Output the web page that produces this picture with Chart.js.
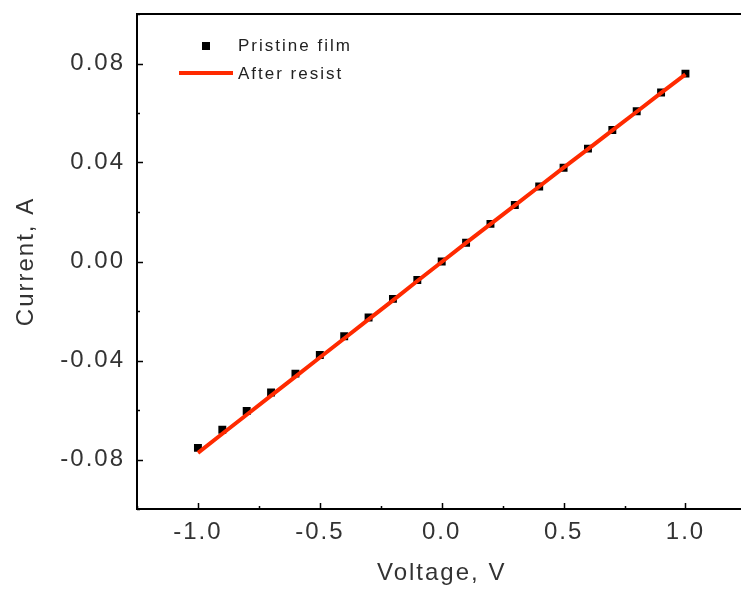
<!DOCTYPE html>
<html>
<head>
<meta charset="utf-8">
<script src="https://cdn.jsdelivr.net/npm/chart.js@4"></script>
<style>
  html, body { margin: 0; padding: 0; background: #fff; overflow: hidden; }
  #wrap { position: absolute; left: 0; top: 0; width: 752px; height: 595px; }
</style>
</head>
<body>
<div id="wrap"><canvas id="ivChart" width="752" height="595"></canvas></div>
<script>
  // voltage sweep (V)
  const voltage = [-1.0, -0.9, -0.8, -0.7, -0.6, -0.5, -0.4, -0.3, -0.2, -0.1, 0.0,
                   0.1, 0.2, 0.3, 0.4, 0.5, 0.6, 0.7, 0.8, 0.9, 1.0];
  // current (A)
  const pristineFilm = [-0.0753, -0.0680, -0.0604, -0.0529, -0.0453, -0.0378, -0.0302, -0.0226, -0.0151, -0.0075, 0.0000,
                        0.0076, 0.0152, 0.0228, 0.0303, 0.0379, 0.0456, 0.0531, 0.0607, 0.0683, 0.0759];
  const afterResist = [-0.0773, -0.0696, -0.0619, -0.0542, -0.0465, -0.0388, -0.0311, -0.0234, -0.0157, -0.0079, -0.0002,
                       0.0075, 0.0151, 0.0227, 0.0303, 0.0379, 0.0454, 0.0530, 0.0605, 0.0681, 0.0756];
  const seriesNames = ['Pristine film', 'After resist'];

  const xTicks = [-1.0, -0.5, 0.0, 0.5, 1.0];
  const xTickLabels = ['-1.0', '-0.5', '0.0', '0.5', '1.0'];
  const xMinor = [-1.25, -0.75, -0.25, 0.25, 0.75, 1.25];
  const yTicks = [0.08, 0.04, 0.00, -0.04, -0.08];
  const yTickLabels = ['0.08', '0.04', '0.00', '-0.04', '-0.08'];
  const yMinor = [0.1, 0.06, 0.02, -0.02, -0.06, -0.1];

  const RED = '#ff2a00';
  const TXT = '#333';
  const FONT = 'Liberation Sans, Arial, sans-serif';

  const toPoints = ys => voltage.map((v, i) => ({ x: v, y: ys[i] }));

  // letter spacing for the wide, old-style axis text
  const spacing = {
    id: 'spacing',
    beforeDraw(chart) { chart.ctx.letterSpacing = '2px'; }
  };

  // frame top/right, inward ticks, and the inset legend
  const frame = {
    id: 'frame',
    afterDraw(chart) {
      const { ctx, chartArea: a, scales: { x, y } } = chart;
      ctx.save();
      ctx.strokeStyle = '#000';
      ctx.lineWidth = 2;
      ctx.beginPath();
      ctx.moveTo(a.left - 1, a.top);
      ctx.lineTo(a.right, a.top);
      ctx.lineTo(a.right, a.bottom);
      ctx.stroke();

      ctx.lineWidth = 1.5;
      ctx.beginPath();
      const xt = (v, len) => {
        const px = Math.round(x.getPixelForValue(v)) + 0.5;
        ctx.moveTo(px, a.bottom); ctx.lineTo(px, a.bottom - len);
      };
      const yt = (v, len) => {
        const py = Math.round(y.getPixelForValue(v)) + 0.5;
        ctx.moveTo(a.left, py); ctx.lineTo(a.left + len, py);
      };
      xTicks.forEach(v => xt(v, 6));
      xMinor.forEach(v => xt(v, 3));
      yTicks.forEach(v => yt(v, 6));
      yMinor.forEach(v => yt(v, 3));
      ctx.stroke();

      // legend
      const ds = chart.data.datasets;
      const lx = a.left + 101;
      ctx.font = '17px ' + FONT;
      ctx.letterSpacing = '2px';
      ctx.textBaseline = 'middle';
      ctx.textAlign = 'left';

      ctx.fillStyle = '#000';
      ctx.fillRect(a.left + 65, a.top + 28, 8, 8);
      ctx.fillStyle = '#222';
      ctx.fillText(ds[0].label, lx, a.top + 32);

      ctx.strokeStyle = RED;
      ctx.lineWidth = 4;
      ctx.beginPath();
      ctx.moveTo(a.left + 42, a.top + 59);
      ctx.lineTo(a.left + 96, a.top + 59);
      ctx.stroke();
      ctx.fillText(ds[1].label, lx, a.top + 60);
      ctx.restore();
    }
  };

  new Chart(document.getElementById('ivChart'), {
    type: 'scatter',
    data: {
      datasets: [
        {
          label: seriesNames[0],
          data: toPoints(pristineFilm),
          pointStyle: 'rect',
          pointRadius: 5.6,
          backgroundColor: '#000',
          borderColor: '#000',
          borderWidth: 0,
          showLine: false,
          order: 2
        },
        {
          label: seriesNames[1],
          data: toPoints(afterResist),
          showLine: true,
          borderColor: RED,
          borderWidth: 4,
          pointRadius: 0,
          tension: 0,
          order: 1
        }
      ]
    },
    options: {
      responsive: false,
      animation: false,
      layout: { padding: { top: 14, right: 4, left: 0, bottom: 0 } },
      plugins: { legend: { display: false }, tooltip: { enabled: false } },
      scales: {
        x: {
          type: 'linear',
          min: -1.25,
          max: 1.25,
          afterBuildTicks: s => { s.ticks = xTicks.map(v => ({ value: v })); },
          afterFit: s => { s.height = 86; s.paddingLeft = 0; s.paddingRight = 0; },
          grid: { drawOnChartArea: false, drawTicks: false },
          border: { color: '#000', width: 2 },
          ticks: {
            padding: 9,
            color: TXT,
            font: { family: FONT, size: 24 },
            callback: (v, i) => xTickLabels[i]
          },
          title: {
            display: true,
            text: 'Voltage, V',
            color: TXT,
            font: { family: FONT, size: 24 },
            padding: { top: 0, bottom: 7 }
          }
        },
        y: {
          type: 'linear',
          min: -0.1,
          max: 0.1,
          afterBuildTicks: s => { s.ticks = yTicks.map(v => ({ value: v })); },
          afterFit: s => { s.width = 137; s.paddingTop = 0; s.paddingBottom = 0; },
          grid: { drawOnChartArea: false, drawTicks: false },
          border: { color: '#000', width: 2 },
          ticks: {
            padding: 12,
            color: TXT,
            font: { family: FONT, size: 24 },
            callback: (v, i) => yTickLabels[i]
          },
          title: {
            display: true,
            text: 'Current, A',
            color: TXT,
            font: { family: FONT, size: 24 },
            padding: { top: 12, bottom: 0 }
          }
        }
      }
    },
    plugins: [spacing, frame]
  });
</script>
</body>
</html>
